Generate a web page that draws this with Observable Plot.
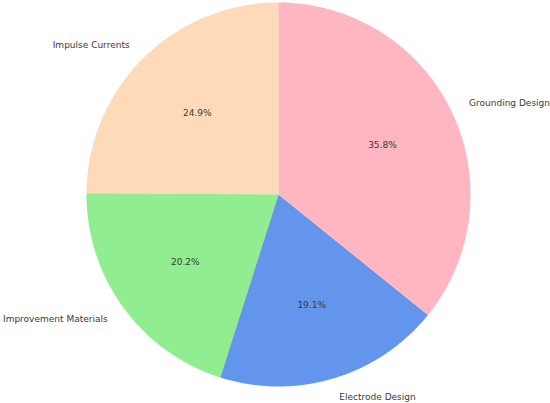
<!DOCTYPE html>
<html>
<head>
<meta charset="utf-8">
<script src="https://cdn.jsdelivr.net/npm/d3@7"></script>
<script src="https://cdn.jsdelivr.net/npm/@observablehq/plot@0.6"></script>
<style>
  html, body { margin: 0; padding: 0; background: #fff; }
</style>
</head>
<body>
<div id="chart"></div>
<script>
const categories = ["Impulse Currents", "Improvement Materials", "Electrode Design", "Grounding Design"];
const values = [24.9, 20.2, 19.1, 35.8];
const colors = ["#FFDAB9", "#90EE90", "#6495ED", "#FFB6C1"];

const W = 550, H = 403;
const cx = 278, cy = 194, R = 192;

// angles counter-clockwise from 90 degrees (matplotlib startangle=90)
const total = d3.sum(values);
let acc = 0;
const slices = categories.map((c, i) => {
  const a0 = 90 + acc / total * 360;
  acc += values[i];
  const a1 = 90 + acc / total * 360;
  return {category: c, value: values[i], color: colors[i], a0, a1, mid: (a0 + a1) / 2};
});

const rad = d => d * Math.PI / 180;
const poly = [];
for (const s of slices) {
  poly.push({category: s.category, x: 0, y: 0});
  const n = Math.max(2, Math.ceil((s.a1 - s.a0) / 1));
  for (let k = 0; k <= n; k++) {
    const a = rad(s.a0 + (s.a1 - s.a0) * k / n);
    poly.push({category: s.category, x: Math.cos(a), y: Math.sin(a)});
  }
  poly.push({category: s.category, x: 0, y: 0});
}

const labels = slices.map(s => ({
  category: s.category,
  x: 1.1 * Math.cos(rad(s.mid)),
  y: 1.1 * Math.sin(rad(s.mid)),
  px: 0.6 * Math.cos(rad(s.mid)),
  py: 0.6 * Math.sin(rad(s.mid)),
  pct: s.value.toFixed(1) + "%"
}));

const chart = Plot.plot({
  width: W,
  height: H,
  margin: 0,
  style: {fontFamily: "'DejaVu Sans', sans-serif", background: "#fff"},
  x: {domain: [-cx / R, (W - cx) / R], axis: null},
  y: {domain: [-(H - cy) / R, cy / R], axis: null},
  color: {domain: categories, range: colors},
  marks: [
    Plot.line(poly, {x: "x", y: "y", z: "category", fill: "category", stroke: "none", curve: "linear"}),
    Plot.text(labels.filter(d => d.x < 0), {x: "x", y: "y", text: "category", textAnchor: "end", fontSize: 9, fill: "#3a3a3a"}),
    Plot.text(labels.filter(d => d.x >= 0), {x: "x", y: "y", text: "category", textAnchor: "start", fontSize: 9, fill: "#3a3a3a"}),
    Plot.text(labels, {x: "px", y: "py", text: "pct", fontSize: 9, fill: "#3a3a3a"})
  ]
});
document.getElementById("chart").appendChild(chart);
</script>
</body>
</html>
